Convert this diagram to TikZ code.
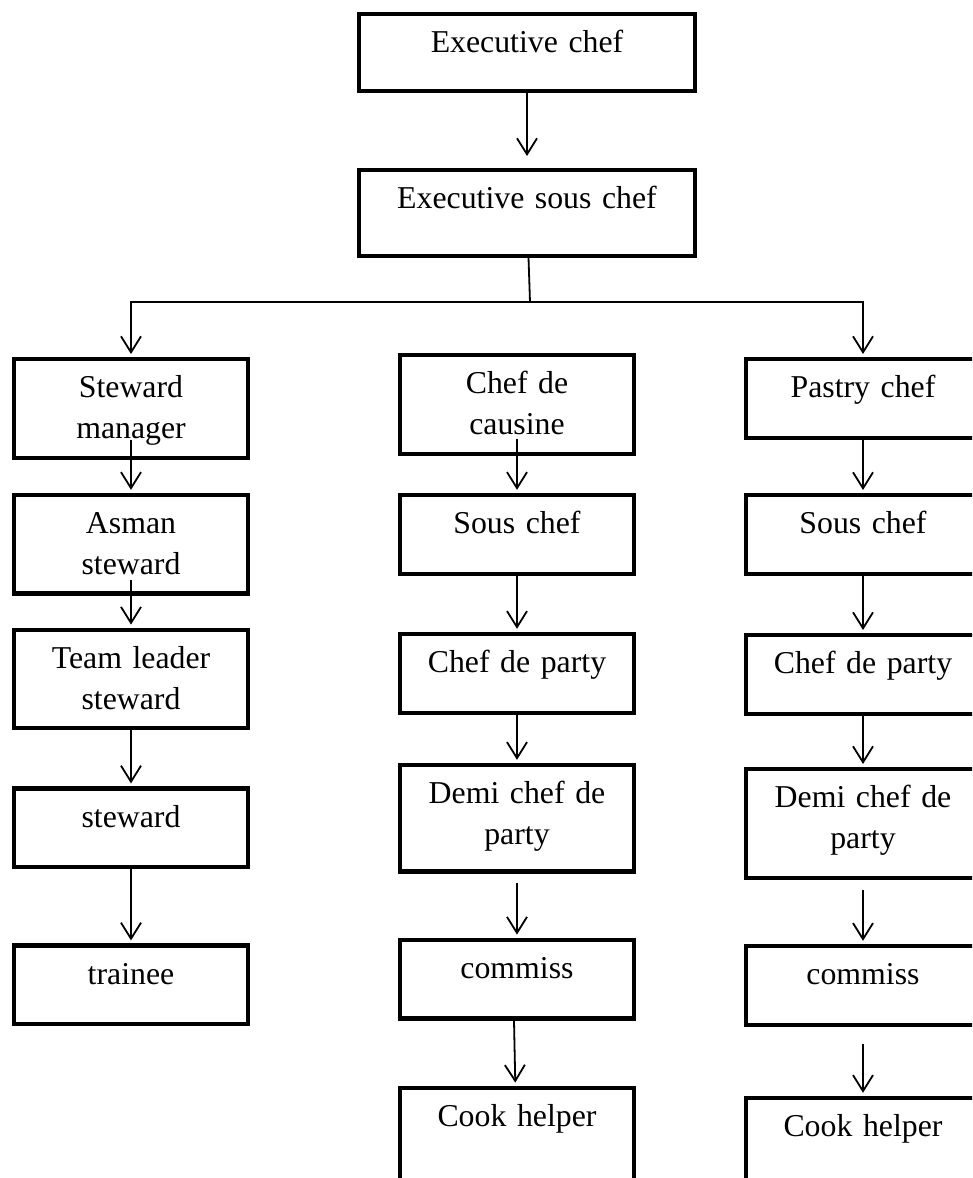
\documentclass[tikz,border=0pt]{standalone}
\usepackage{fontspec}
\setmainfont{Liberation Serif}
\usetikzlibrary{arrows.meta,positioning}

\begin{document}
\begin{tikzpicture}[
    x=1pt, y=-1pt,
    node distance=35pt,
    box/.style={draw, line width=4.3pt, inner sep=0pt, align=center,
        text width=233.7pt, text height=38.5pt, text depth=40.2pt,
        font=\fontsize{31.8}{41}\selectfont},
    twobox/.style={box, text depth=60pt},
    topbox/.style={box, text width=335.7pt},
    line/.style={line width=1.8pt},
    conn/.style={line, -{Straight Barb[length=16pt,width=20pt]}, shorten >=3pt}
]
\clip (0,0) rectangle (972,1178);

% top of the chart
\node[topbox, text depth=38.2pt, anchor=north] (exec) at (527,12) {Executive chef};
\node[topbox, text depth=47.2pt, below=75pt of exec] (esc) {Executive sous chef};

% steward column
\node[twobox, anchor=north] (stmgr) at (131,357) {Steward\\manager};
\node[twobox, below=33pt of stmgr] (asman) {Asman\\steward};
\node[twobox, below=32pt of asman] (teamlead) {Team leader\\steward};
\node[box, below=56pt of teamlead] (steward) {steward};
\node[box, below=74pt of steward] (trainee) {trainee};

% kitchen column
\node[twobox, anchor=north] (cdc) at (517,353) {Chef de\\causine};
\node[box, below=37pt of cdc] (sous) {Sous chef};
\node[box, below=56pt of sous] (cdp) {Chef de party};
\node[twobox, text depth=68pt, below=48pt of cdp] (demi) {Demi chef de\\party};
\node[box, below=64pt of demi] (commiss) {commiss};
\node[box, text depth=120pt, below=65pt of commiss] (cook) {Cook helper};

% pastry column
\node[box, anchor=north] (pastry) at (863,357) {Pastry chef};
\node[box, below=53pt of pastry] (sous2) {Sous chef};
\node[box, below=57pt of sous2] (cdp2) {Chef de party};
\node[twobox, text depth=70pt, below=51pt of cdp2] (demi2) {Demi chef de\\party};
\node[box, below=64pt of demi2] (commiss2) {commiss};
\node[box, text depth=120pt, below=69pt of commiss2] (cook2) {Cook helper};

% connectors
\coordinate (bus) at (530,302);
\draw[conn, shorten >=12pt] (exec) -- (esc);
\draw[line] (esc) -- (bus);
\draw[conn] (bus) -| (stmgr);
\draw[conn] (bus) -| (pastry);

\draw[conn] ([yshift=20pt]stmgr.south) -- (asman);
\draw[conn] ([yshift=16pt]asman.south) -- (teamlead);
\draw[conn] (teamlead) -- (steward);
\draw[conn] (steward) -- (trainee);

\draw[conn] ([yshift=17pt]cdc.south) -- (sous);
\draw[conn] (sous) -- (cdp);
\draw[conn] (cdp) -- (demi);
\draw[conn, shorten <=9pt] (demi) -- (commiss);
\draw[conn] ([xshift=-3pt]commiss.south) -- (cook);

\draw[conn] (pastry) -- (sous2);
\draw[conn] (sous2) -- (cdp2);
\draw[conn] (cdp2) -- (demi2);
\draw[conn, shorten <=10pt] (demi2) -- (commiss2);
\draw[conn, shorten <=17pt] (commiss2) -- (cook2);
\end{tikzpicture}
\end{document}
